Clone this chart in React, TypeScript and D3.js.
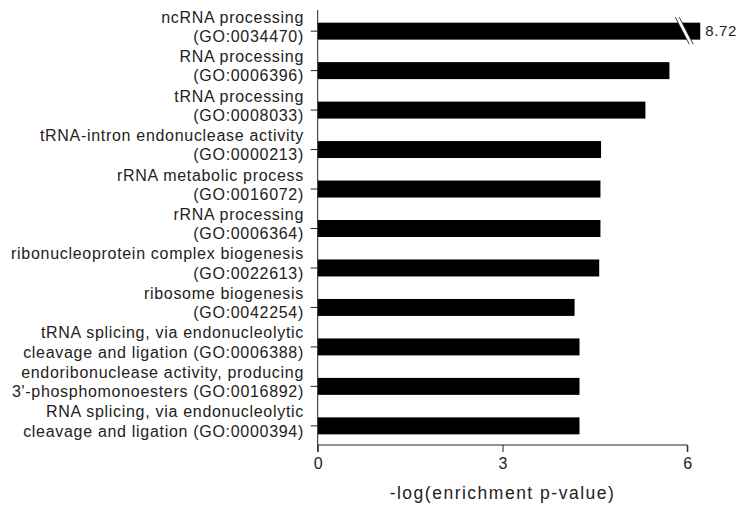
import React, { useEffect, useRef } from 'react';
import * as d3 from 'd3';

// GO terms, two label lines each
const termNames = [
  'ncRNA processing',
  'RNA processing',
  'tRNA processing',
  'tRNA-intron endonuclease activity',
  'rRNA metabolic process',
  'rRNA processing',
  'ribonucleoprotein complex biogenesis',
  'ribosome biogenesis',
  'tRNA splicing, via endonucleolytic',
  'endoribonuclease activity, producing',
  'RNA splicing, via endonucleolytic',
];
const termIds = [
  '(GO:0034470)',
  '(GO:0006396)',
  '(GO:0008033)',
  '(GO:0000213)',
  '(GO:0016072)',
  '(GO:0006364)',
  '(GO:0022613)',
  '(GO:0042254)',
  'cleavage and ligation (GO:0006388)',
  "3'-phosphomonoesters (GO:0016892)",
  'cleavage and ligation (GO:0000394)',
];
const enrichment = [8.72, 5.71, 5.32, 4.6, 4.59, 4.59, 4.57, 4.17, 4.25, 4.25, 4.25];
const xTicks = [0, 3, 6];
const axisCap = 6.21; // bars above this are drawn broken

function App() {
  const ref = useRef<SVGSVGElement>(null);

  useEffect(() => {
    const svg = d3.select(ref.current);
    svg.selectAll('*').remove();

    const width = 736, height = 508;
    const font = '"Liberation Sans", Arial, sans-serif';
    const x = d3.scaleLinear().domain([0, 6]).range([317.7, 687.3]);
    const y = d3.scaleBand<number>()
      .domain(d3.range(termNames.length))
      .range([12, 445])
      .paddingInner(0.57)
      .paddingOuter(0.27);

    // bars
    svg.append('g')
      .selectAll('rect')
      .data(enrichment)
      .join('rect')
      .attr('x', x(0))
      .attr('y', (d, i) => y(i)!)
      .attr('width', d => x(Math.min(d, axisCap)) - x(0))
      .attr('height', y.bandwidth())
      .attr('fill', '#000');

    // break marks + value label on clipped bars
    enrichment.forEach((d, i) => {
      if (d <= axisCap) return;
      const cy = y(i)! + y.bandwidth() / 2;
      const bx = x(5.95);
      const g = svg.append('g');
      g.append('polygon')
        .attr('points', `${bx - 9},${cy - 14} ${bx - 5},${cy - 14} ${bx + 9},${cy + 13} ${bx + 5},${cy + 13}`)
        .attr('fill', '#fff');
      [[-9, 5], [-5, 9]].forEach(([a, b]) => {
        g.append('line')
          .attr('x1', bx + a).attr('y1', cy - 14)
          .attr('x2', bx + b).attr('y2', cy + 13)
          .attr('stroke', '#222').attr('stroke-width', 0.9);
      });
      svg.append('text')
        .attr('x', x(axisCap) + 5)
        .attr('y', cy + 5)
        .attr('font-family', font)
        .attr('font-size', 15)
        .attr('letter-spacing', 0.6)
        .attr('fill', '#222')
        .text(d3.format('.2f')(d));
    });

    // y axis line + ticks
    svg.append('line')
      .attr('x1', x(0)).attr('x2', x(0))
      .attr('y1', 10).attr('y2', 445)
      .attr('stroke', '#222');
    const labels = svg.append('g')
      .attr('font-family', font)
      .attr('font-size', 16)
      .attr('letter-spacing', 0.7)
      .attr('fill', '#222')
      .attr('text-anchor', 'end');
    termNames.forEach((name, i) => {
      const cy = y(i)! + y.bandwidth() / 2;
      svg.append('line')
        .attr('x1', x(0) - 7).attr('x2', x(0))
        .attr('y1', cy).attr('y2', cy)
        .attr('stroke', '#222');
      labels.append('text').attr('x', 304).attr('y', cy - 8.5).text(name);
      labels.append('text').attr('x', 304).attr('y', cy + 10.8).text(termIds[i]);
    });

    // x axis
    const xAxis = svg.append('g')
      .attr('transform', `translate(0,445)`)
      .call(d3.axisBottom(x).tickValues(xTicks).tickSize(7).tickPadding(6).tickFormat(d3.format('d')));
    xAxis.select('.domain').attr('d', `M${x(0)},7V0H${x(6)}V7`).attr('stroke', '#222');
    xAxis.selectAll('.tick line').attr('stroke', '#222');
    xAxis.selectAll('text')
      .attr('font-family', font)
      .attr('font-size', 16)
      .attr('fill', '#222');

    svg.append('text')
      .attr('x', x(3))
      .attr('y', 499)
      .attr('text-anchor', 'middle')
      .attr('font-family', font)
      .attr('font-size', 17.5)
      .attr('letter-spacing', 1.5)
      .attr('fill', '#222')
      .text('-log(enrichment p-value)');

    svg.attr('width', width).attr('height', height);
  }, []);

  return (
    <svg ref={ref} width="736" height="508"
      style={{ position: 'absolute', left: 0, top: 0, background: '#fff' }} />
  );
}

export default App;
